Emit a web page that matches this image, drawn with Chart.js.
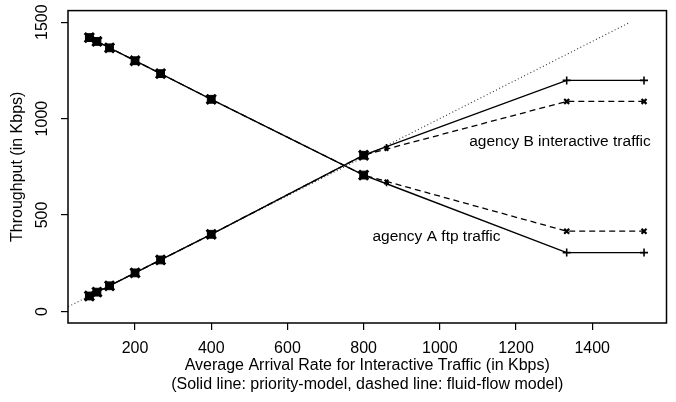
<!DOCTYPE html>
<html><head><meta charset="utf-8">
<script src="https://cdn.jsdelivr.net/npm/chart.js@4"></script>
<style>html,body{margin:0;padding:0;background:#fff}#wrap{width:676px;height:402px}</style>
</head><body><div id="wrap"><canvas id="c"></canvas></div>
<script>
// ---- data ----
const rateX = [80, 100, 133, 200, 267, 400, 800, 860, 1333, 1536];
const interactivePriority = [80, 100, 133, 200, 267, 400, 810, 855, 1198, 1198];
const interactiveFluid    = [80, 100, 133, 200, 267, 400, 810, 842, 1089, 1089];
const ftpPriority = [1420, 1400, 1367, 1300, 1233, 1100, 707, 662, 305, 305];
const ftpFluid    = [1420, 1400, 1367, 1300, 1233, 1100, 707, 674, 416, 416];
const referenceX = [0, 1500];
const referenceY = [0, 1500];
const xTickValues = [200, 400, 600, 800, 1000, 1200, 1400];
const yTickValues = [0, 500, 1000, 1500];
const seriesNames = ['agency B interactive (priority)', 'agency B interactive (fluid-flow)',
                     'agency A ftp (priority)', 'agency A ftp (fluid-flow)', 'y = x'];
const annotationTexts = ['agency B interactive traffic', 'agency A ftp traffic'];
const annotationX = [1077, 823];
const annotationY = [878, 390];

const pair = (xs, ys) => xs.map((x, i) => ({x: x, y: ys[i]}));
const FONT = '"Liberation Sans", Arial, Helvetica, sans-serif';
Chart.defaults.font.family = FONT;
Chart.defaults.font.size = 16;
Chart.defaults.color = '#000';

const isBig = c => c.raw && c.raw.x <= 800;
const isTiny = c => c.raw && c.raw.x > 800 && c.raw.x < 1000;
function solidSet(label, ys) {
  return {label, data: pair(rateX, ys), borderColor: '#000', borderWidth: 1.4,
    pointStyle: c => isBig(c) ? 'rect' : 'cross',
    pointRadius: c => isBig(c) ? 5.5 : (isTiny(c) ? 2.5 : 4),
    pointBorderWidth: c => isBig(c) ? 1 : 1.6,
    pointBackgroundColor: '#000', pointBorderColor: '#000', tension: 0};
}
function dashedSet(label, ys) {
  return {label, data: pair(rateX, ys), borderColor: '#000', borderWidth: 1.3, borderDash: [6, 4],
    pointStyle: 'crossRot',
    pointRadius: c => isBig(c) ? 6.5 : (isTiny(c) ? 2.5 : 3.5),
    pointBorderWidth: c => isBig(c) ? 3 : 2.2,
    pointBackgroundColor: '#000', pointBorderColor: '#000', tension: 0};
}

const boxPlugin = {
  id: 'box',
  afterDraw(chart) {
    const {ctx, chartArea: a} = chart;
    ctx.save();
    ctx.strokeStyle = '#000'; ctx.lineWidth = 1.5;
    ctx.strokeRect(a.left, a.top, a.right - a.left, a.bottom - a.top);
    ctx.restore();
  }
};
const textPlugin = {
  id: 'notes',
  afterDatasetsDraw(chart) {
    const {ctx, scales: {x, y}} = chart;
    ctx.save();
    ctx.fillStyle = '#000';
    ctx.font = '15.5px ' + FONT;
    ctx.textAlign = 'left'; ctx.textBaseline = 'middle';
    annotationTexts.forEach((t, i) => {
      ctx.fillText(t, x.getPixelForValue(annotationX[i]), y.getPixelForValue(annotationY[i]));
    });
    ctx.restore();
  }
};

const plain = v => String(v);

new Chart(document.getElementById('c'), {
  type: 'scatter',
  data: {datasets: [
    solidSet(seriesNames[0], interactivePriority),
    dashedSet(seriesNames[1], interactiveFluid),
    solidSet(seriesNames[2], ftpPriority),
    dashedSet(seriesNames[3], ftpFluid),
    {label: seriesNames[4], data: pair(referenceX, referenceY), showLine: true, borderColor: '#333',
     borderWidth: 1.1, borderDash: [1, 2.5], pointRadius: 0, clip: 0}
  ].map(d => Object.assign({showLine: true}, d))},
  options: {
    responsive: true, maintainAspectRatio: false, animation: false,
    layout: {padding: {top: 7, right: 8, left: 0, bottom: 0}},
    plugins: {legend: {display: false}, tooltip: {enabled: false}},
    scales: {
      x: {type: 'linear', min: 24, max: 1595,
        afterBuildTicks: s => { s.ticks = xTickValues.map(v => ({value: v})); },
        afterFit: s => { s.height = 79; },
        grid: {display: true, drawOnChartArea: false, drawTicks: true, tickLength: 7, color: '#000', lineWidth: 1.2},
        border: {display: false},
        ticks: {padding: 9, maxRotation: 0, font: {size: 16}, callback: plain},
        title: {display: true, text: ['Average Arrival Rate for Interactive Traffic (in Kbps)',
                                      '(Solid line: priority-model, dashed line: fluid-flow model)'],
                font: {size: 16}, padding: {top: 0, bottom: 8}}
      },
      y: {type: 'linear', min: -60, max: 1560,
        afterBuildTicks: s => { s.ticks = yTickValues.map(v => ({value: v})); },
        afterFit: s => { s.width = 68; },
        grid: {display: true, drawOnChartArea: false, drawTicks: true, tickLength: 7, color: '#000', lineWidth: 1.2},
        border: {display: false},
        ticks: {padding: 1, minRotation: 90, maxRotation: 90, crossAlign: 'center', font: {size: 16}, callback: plain},
        title: {display: true, text: 'Throughput (in Kbps)', font: {size: 16}, padding: {top: 8, bottom: 0}}
      }
    }
  },
  plugins: [boxPlugin, textPlugin]
});
</script></body></html>
